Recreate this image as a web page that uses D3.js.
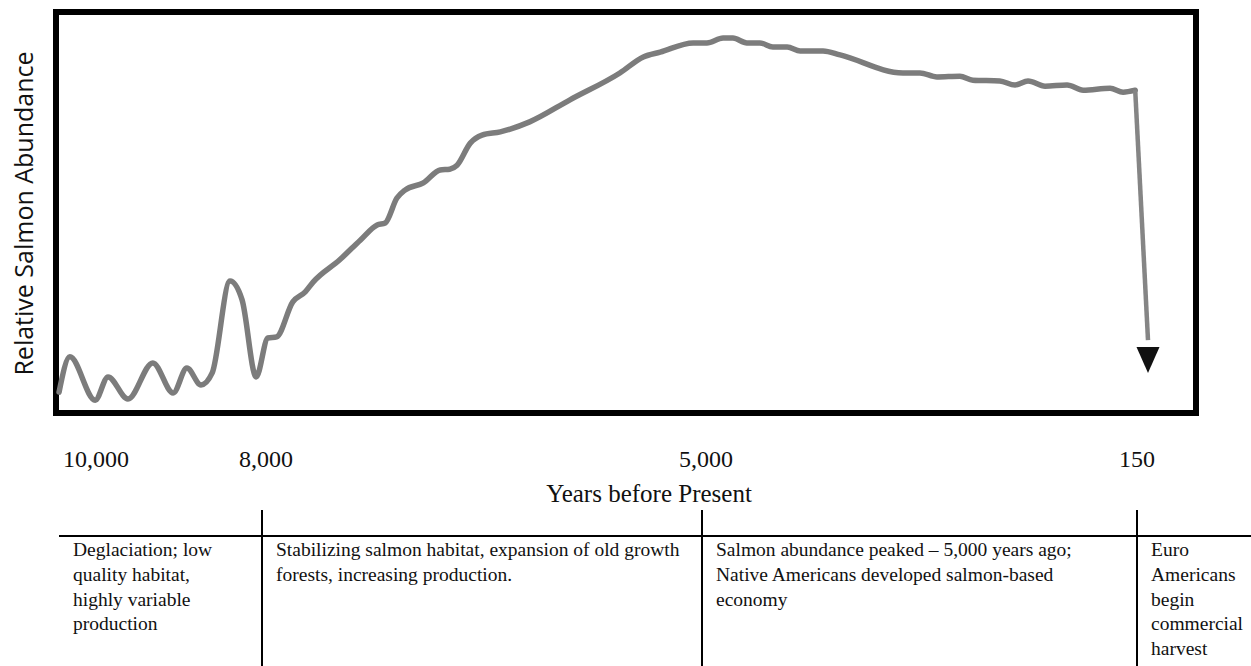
<!DOCTYPE html>
<html>
<head>
<meta charset="utf-8">
<script src="https://cdn.jsdelivr.net/npm/d3@7"></script>
<style>
  body { margin: 0; background: #fff; }
  svg { display: block; }
</style>
</head>
<body>
<div id="chart"></div>
<script>
// years before present
const years = [10445, 10315, 10010, 9855, 9615, 9315, 9070, 8905, 8735, 8600, 8385, 8240, 8070,
  7960, 7900, 7790, 7705, 7650, 7470, 7330, 7215, 7160, 7080, 7025, 6900, 6785, 6720, 6670,
  6580, 6500, 6375, 6175, 5900, 5560, 5400, 5285, 5060,
  4945, 4765, 4655, 4500, 4355, 4210, 4050, 3905, 3650, 3460, 2760, 2570, 2380, 2125, 1980,
  1680, 1510, 1365, 1175, 930, 750, 450, 305, 170];
// relative abundance (0-100)
const abundance = [5.2, 14.0, 3.2, 9.0, 3.5, 12.5, 5.0, 11.2, 7.0, 10.0, 32.9, 28.2, 9.0,
  18.7, 19.0, 27.7, 30.2, 32.7, 38.2, 43.1, 46.9, 47.4, 53.6, 55.6, 57.4, 60.6, 60.8, 61.8,
  67.3, 69.3, 70.1, 72.6, 78.1, 84.8, 88.8, 90.0, 92.3,
  92.3, 93.5, 93.5, 92.3, 92.3, 91.3, 91.3, 90.3, 90.3, 89.3, 84.8, 84.8, 83.8, 84.0, 83.0,
  82.8, 81.8, 82.8, 81.5, 81.8, 80.5, 81.0, 80.0, 80.5];

// the collapse after Euro-American contact
const dropYears = [170, 0];
const dropValues = [80.5, 18.2];
const arrowTip = 10.0;

const tickYears = [10000, 8000, 5000, 150];
const tickLabels = ["10,000", "8,000", "5,000", "150"];

// period boundaries and notes under the axis
const periodStarts = [10000, 8000, 5000, 150];
const periodNotes = [
  ["Deglaciation; low", "quality habitat,", "highly variable", "production"],
  ["Stabilizing salmon habitat, expansion of old growth", "forests, increasing production."],
  ["Salmon abundance peaked \u2013 5,000 years ago;", "Native Americans developed salmon-based", "economy"],
  ["Euro", "Americans", "begin", "commercial", "harvest"]
];

const width = 1251, height = 666;

const svg = d3.select("#chart").append("svg")
    .attr("width", width)
    .attr("height", height);

// time axis is not linear, so use a piecewise scale
const x = d3.scaleLinear()
    .domain([10000, 8000, 5000, 150, 0])
    .range([96, 262, 702, 1137, 1148]);

const y = d3.scaleLinear()
    .domain([0, 100])
    .range([413, 12]);

// frame
svg.append("rect")
    .attr("x", 56)
    .attr("y", y(100))
    .attr("width", 1140)
    .attr("height", y(0) - y(100))
    .attr("fill", "none")
    .attr("stroke", "#000")
    .attr("stroke-width", 6);

const data = years.map((yr, i) => ({ year: yr, value: abundance[i] }));

const line = d3.line()
    .x(d => x(d.year))
    .y(d => y(d.value))
    .curve(d3.curveMonotoneX);

svg.append("path")
    .datum(data)
    .attr("d", line)
    .attr("fill", "none")
    .attr("stroke", "#7c7c7c")
    .attr("stroke-width", 5.5)
    .attr("stroke-linecap", "round")
    .attr("stroke-linejoin", "round");

// drop line + arrow head
const drop = dropYears.map((yr, i) => ({ year: yr, value: dropValues[i] }));
svg.append("path")
    .datum(drop)
    .attr("d", d3.line().x(d => x(d.year)).y(d => y(d.value)))
    .attr("fill", "none")
    .attr("stroke", "#858585")
    .attr("stroke-width", 4.5);

const tipX = x(dropYears[1]), tipY = y(arrowTip);
svg.append("path")
    .attr("d", `M${tipX - 11.5},${tipY - 26} L${tipX + 11.5},${tipY - 26} L${tipX},${tipY} Z`)
    .attr("fill", "#111");

// y axis title
svg.append("text")
    .attr("transform", `translate(33,${(y(0) + y(100)) / 2 + 1}) rotate(-90)`)
    .attr("text-anchor", "middle")
    .style("font-family", "'Open Sans', sans-serif")
    .style("font-size", "25px")
    .attr("fill", "#111")
    .text("Relative Salmon Abundance");

// tick labels
svg.append("g")
  .selectAll("text")
  .data(tickYears)
  .join("text")
    .attr("x", d => x(d) + (d === 10000 || d === 150 ? 0 : 4))
    .attr("y", 467)
    .attr("text-anchor", "middle")
    .style("font-family", "'Liberation Serif', serif")
    .style("font-size", "24px")
    .attr("fill", "#111")
    .text((d, i) => tickLabels[i]);

svg.append("text")
    .attr("x", 649)
    .attr("y", 502)
    .attr("text-anchor", "middle")
    .style("font-family", "'Liberation Serif', serif")
    .style("font-size", "25px")
    .attr("fill", "#111")
    .text("Years before Present");

// notes table
svg.append("line")
    .attr("x1", 59).attr("x2", width)
    .attr("y1", 536).attr("y2", 536)
    .attr("stroke", "#000")
    .attr("stroke-width", 2);

svg.append("g")
  .selectAll("line")
  .data(periodStarts.slice(1))
  .join("line")
    .attr("x1", d => x(d)).attr("x2", d => x(d))
    .attr("y1", 510).attr("y2", height)
    .attr("stroke", "#000")
    .attr("stroke-width", 2);

const colLeft = [59].concat(periodStarts.slice(1).map(d => x(d)));

svg.append("g")
  .selectAll("text")
  .data(periodNotes)
  .join("text")
    .attr("x", (d, i) => colLeft[i] + 14)
    .attr("y", 556)
    .style("font-family", "'Liberation Serif', serif")
    .style("font-size", "19.5px")
    .attr("fill", "#111")
  .selectAll("tspan")
  .data(d => d)
  .join("tspan")
    .attr("x", function() { return this.parentNode.getAttribute("x"); })
    .attr("dy", (d, i) => i === 0 ? 0 : 24.8)
    .text(d => d);
</script>
</body>
</html>
